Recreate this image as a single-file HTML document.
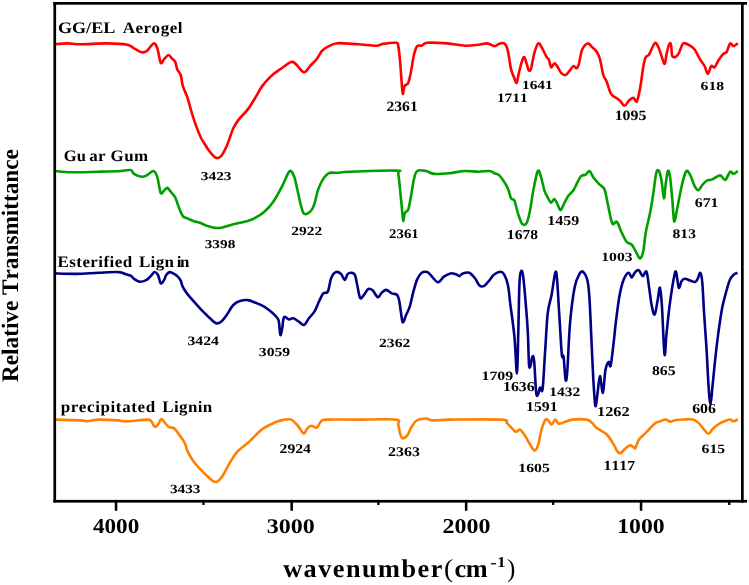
<!DOCTYPE html><html><head><meta charset="utf-8"><style>html,body{margin:0;padding:0;background:#fff;width:749px;height:585px;overflow:hidden}svg{display:block;will-change:transform}text{font-family:"Liberation Serif",serif;font-weight:bold;font-kerning:none;font-variant-ligatures:none;text-rendering:geometricPrecision}</style></head><body>
<svg width="749" height="585" viewBox="0 0 749 585">
<rect width="749" height="585" fill="#fff"/>
<path d="M54.0,44.3 C56.2,44.1 62.8,43.4 67.3,43.4 C71.8,43.4 74.0,44.3 80.7,44.3 C87.4,44.3 99.5,43.3 107.3,43.4 C115.1,43.5 122.8,44.0 127.3,44.8 C131.8,45.6 131.6,47.0 134.0,48.3 C136.4,49.5 139.6,51.9 141.8,52.3 C144.0,52.7 145.3,52.1 147.3,50.6 C149.3,49.1 151.9,43.8 153.6,43.4 C155.3,43.0 156.1,45.1 157.3,48.3 C158.5,51.5 159.6,60.9 160.7,62.8 C161.8,64.6 162.7,60.7 164.0,59.4 C165.3,58.1 167.1,55.2 168.4,55.0 C169.7,54.8 170.7,57.2 171.8,58.3 C172.9,59.4 174.2,59.9 175.1,61.7 C176.0,63.6 176.4,67.2 177.3,69.4 C178.2,71.6 179.8,72.2 180.7,75.0 C181.6,77.8 181.8,82.4 182.9,86.1 C184.0,89.8 185.8,92.8 187.3,97.2 C188.8,101.7 190.3,108.0 191.8,112.8 C193.3,117.6 194.7,122.0 196.2,126.1 C197.7,130.2 199.5,134.6 200.7,137.2 C201.9,139.8 201.9,139.5 203.3,141.7 C204.7,143.9 206.9,147.9 208.9,150.6 C210.9,153.3 213.6,156.8 215.6,157.7 C217.6,158.6 219.2,158.0 221.1,156.1 C222.9,154.2 224.7,150.7 226.7,146.1 C228.7,141.5 231.3,132.8 233.3,128.3 C235.3,123.9 236.5,122.6 238.9,119.4 C241.3,116.2 245.0,113.1 247.8,109.4 C250.6,105.7 253.2,101.1 255.6,97.2 C258.0,93.3 259.6,89.6 262.2,86.1 C264.8,82.6 268.1,78.9 271.1,76.1 C274.1,73.3 276.7,71.7 280.0,69.4 C283.3,67.1 288.5,63.0 291.1,62.1 C293.7,61.2 293.5,62.2 295.6,63.9 C297.8,65.6 301.6,71.9 304.0,72.3 C306.4,72.7 307.9,68.3 310.0,66.1 C312.1,63.9 314.7,61.6 316.7,59.0 C318.7,56.4 320.2,52.8 322.2,50.6 C324.2,48.5 326.3,47.3 328.9,46.1 C331.5,44.9 332.9,43.5 337.8,43.2 C342.7,42.9 351.9,43.9 358.3,44.3 C364.7,44.7 372.0,45.8 376.1,45.7 C380.2,45.6 379.5,44.4 382.8,43.9 C386.1,43.4 393.5,42.4 396.1,42.8 C398.7,43.2 397.6,43.0 398.3,46.1 C399.0,49.2 399.5,55.6 400.1,61.7 C400.7,67.8 401.2,77.4 401.7,82.8 C402.1,88.2 402.3,93.4 402.8,93.9 C403.3,94.5 403.7,87.9 404.6,86.1 C405.5,84.2 407.2,85.4 408.3,82.8 C409.4,80.2 410.3,75.2 411.2,70.6 C412.1,66.0 412.9,59.1 413.9,55.0 C414.9,50.9 415.9,47.6 417.2,46.1 C418.5,44.6 420.0,46.2 421.7,45.7 C423.4,45.2 422.9,43.2 427.2,42.8 C431.4,42.4 440.9,42.9 447.2,43.4 C453.5,43.9 459.8,45.5 465.0,45.7 C470.2,45.9 474.6,45.2 478.3,44.8 C482.0,44.4 484.5,43.2 487.2,43.4 C489.9,43.6 492.4,46.0 494.4,46.1 C496.3,46.2 497.2,44.4 498.9,43.9 C500.6,43.4 502.9,42.3 504.4,43.4 C505.9,44.5 506.7,46.3 507.8,50.6 C508.9,54.9 510.0,64.8 511.1,69.4 C512.2,74.0 513.5,76.1 514.4,78.3 C515.3,80.5 516.0,83.7 516.7,82.8 C517.5,81.9 518.0,76.5 518.9,72.8 C519.8,69.1 521.3,63.2 522.2,60.6 C523.1,58.0 523.6,56.7 524.4,57.2 C525.1,57.8 526.0,61.7 526.7,63.9 C527.5,66.1 528.2,69.9 528.9,70.6 C529.6,71.3 530.2,71.3 531.1,68.3 C532.0,65.3 533.2,56.9 534.4,52.8 C535.6,48.6 537.1,44.1 538.4,43.4 C539.7,42.6 540.8,46.0 542.2,48.3 C543.6,50.6 545.6,55.4 546.7,57.2 C547.8,59.1 548.2,57.7 548.9,59.4 C549.6,61.1 550.2,66.5 551.1,67.2 C552.0,67.9 553.3,63.4 554.4,63.4 C555.5,63.4 556.7,65.6 557.8,67.2 C558.9,68.8 559.8,71.5 561.1,72.8 C562.4,74.1 564.3,75.2 565.6,75.0 C566.9,74.8 567.6,73.2 568.9,71.7 C570.2,70.2 572.0,66.7 573.3,66.1 C574.6,65.5 575.8,68.7 576.7,68.3 C577.6,67.9 578.0,67.0 578.9,63.9 C579.8,60.8 580.7,52.8 582.2,49.4 C583.7,46.0 586.1,43.8 587.8,43.4 C589.5,43.0 590.7,45.8 592.2,47.2 C593.7,48.6 595.4,49.7 596.7,51.7 C598.0,53.7 598.9,55.5 600.0,59.4 C601.1,63.3 602.2,71.3 603.3,75.0 C604.4,78.7 605.4,78.5 606.7,81.7 C608.0,84.9 609.4,91.1 611.1,93.9 C612.8,96.7 615.2,97.2 616.7,98.3 C618.2,99.4 618.7,99.4 620.0,100.6 C621.3,101.8 623.0,105.7 624.5,105.7 C626.0,105.7 627.5,101.9 629.0,100.6 C630.5,99.3 632.1,97.5 633.4,97.7 C634.7,97.9 635.7,103.1 636.8,101.5 C637.9,99.9 639.0,94.2 640.1,88.3 C641.2,82.4 642.5,71.3 643.4,66.1 C644.3,60.9 644.8,59.1 645.7,57.2 C646.6,55.3 647.5,56.9 649.0,54.6 C650.5,52.3 653.1,44.8 654.6,43.4 C656.1,42.0 656.8,44.2 657.9,46.1 C659.0,48.0 660.1,52.0 661.2,55.0 C662.3,58.0 663.7,64.3 664.6,63.9 C665.5,63.5 665.9,56.2 666.8,52.8 C667.6,49.4 669.0,44.5 669.7,43.4 C670.4,42.3 670.8,44.0 671.2,46.1 C671.6,48.2 671.5,54.3 672.3,56.1 C673.0,57.9 674.6,57.3 675.7,56.8 C676.8,56.2 677.7,55.0 679.0,52.8 C680.3,50.6 681.5,44.6 683.4,43.4 C685.2,42.2 688.2,44.7 690.1,45.7 C692.0,46.7 692.9,47.1 694.6,49.4 C696.3,51.7 698.4,56.6 700.1,59.4 C701.8,62.2 703.3,63.7 704.6,66.1 C705.9,68.5 706.8,73.9 707.9,73.9 C709.0,73.9 710.1,67.2 711.2,66.1 C712.3,65.0 713.3,68.3 714.6,67.2 C715.9,66.1 717.5,61.6 719.0,59.4 C720.5,57.2 722.1,55.2 723.4,53.9 C724.7,52.6 725.7,53.5 726.8,51.7 C727.9,50.0 729.0,44.3 730.1,43.4 C731.2,42.5 732.1,46.1 733.4,46.1 C734.7,46.1 737.1,43.9 737.9,43.4" fill="none" stroke="#ff0000" stroke-width="2.6" stroke-linejoin="round" stroke-linecap="butt"/>
<path d="M54.0,171.0 C57.0,171.2 64.4,172.2 71.8,172.3 C79.2,172.4 90.2,171.9 98.4,171.7 C106.6,171.5 115.3,171.3 120.7,171.0 C126.1,170.7 128.5,169.6 130.7,170.1 C132.9,170.6 132.2,172.8 134.0,173.9 C135.8,175.0 139.6,176.6 141.8,176.8 C144.0,177.0 145.3,176.0 147.3,175.0 C149.3,174.0 151.9,170.6 153.6,171.0 C155.3,171.4 156.1,173.6 157.3,177.2 C158.5,180.8 159.6,190.6 160.7,192.8 C161.8,195.0 162.9,191.4 164.0,190.6 C165.1,189.8 166.2,187.7 167.3,187.9 C168.4,188.1 169.4,190.1 170.7,191.7 C172.0,193.2 173.8,194.8 175.1,197.2 C176.4,199.6 177.1,202.9 178.4,206.1 C179.7,209.2 181.4,214.1 182.9,216.1 C184.4,218.1 185.5,217.5 187.3,218.3 C189.2,219.2 191.9,220.4 194.0,221.2 C196.1,221.9 197.9,222.1 200.0,222.8 C202.1,223.6 204.1,224.8 206.7,225.7 C209.3,226.5 213.0,227.6 215.6,227.9 C218.2,228.2 219.2,228.0 222.2,227.4 C225.1,226.8 229.2,225.3 233.3,224.3 C237.4,223.3 243.2,222.2 246.7,221.2 C250.2,220.2 251.5,219.9 254.4,218.3 C257.4,216.7 261.2,214.5 264.4,211.7 C267.5,208.9 270.3,206.0 273.3,201.7 C276.3,197.4 279.8,190.7 282.2,186.1 C284.6,181.5 286.4,176.4 287.8,173.9 C289.2,171.4 289.6,170.4 290.7,171.0 C291.8,171.6 293.2,173.8 294.4,177.2 C295.6,180.6 296.7,186.9 297.8,191.7 C298.9,196.5 300.0,202.4 301.1,206.1 C302.2,209.8 302.7,213.2 304.4,213.9 C306.1,214.7 309.4,212.3 311.1,210.6 C312.8,208.9 313.3,207.2 314.4,203.9 C315.5,200.6 316.5,194.5 317.8,190.6 C319.1,186.7 320.4,183.5 322.2,180.6 C324.0,177.7 326.3,174.5 328.9,173.2 C331.5,171.9 334.3,173.1 337.8,172.8 C341.3,172.6 340.3,172.1 350.0,171.7 C359.7,171.3 388.1,170.2 396.1,170.6 C404.2,171.0 397.6,169.8 398.3,173.9 C399.1,178.0 399.9,188.5 400.6,195.0 C401.3,201.5 401.9,208.4 402.3,212.8 C402.7,217.2 402.8,221.2 403.2,221.2 C403.6,221.2 404.1,214.8 405.0,212.8 C405.9,210.8 407.3,212.4 408.3,209.4 C409.3,206.4 410.3,200.0 411.2,195.0 C412.1,190.0 412.9,183.4 413.9,179.4 C414.9,175.4 415.2,172.4 417.2,171.0 C419.2,169.6 423.3,170.5 426.1,171.0 C428.9,171.5 430.0,173.5 433.9,173.9 C437.8,174.3 444.2,173.7 449.4,173.2 C454.6,172.7 460.2,171.2 465.0,171.0 C469.8,170.8 474.2,171.7 478.3,171.7 C482.4,171.7 486.7,170.8 489.4,171.0 C492.1,171.2 492.8,172.5 494.4,173.2 C496.0,173.9 497.4,173.8 498.9,175.0 C500.4,176.2 501.8,178.4 503.3,180.6 C504.8,182.8 506.5,185.4 507.8,188.3 C509.1,191.2 510.0,196.2 511.1,198.3 C512.2,200.4 513.3,198.2 514.4,200.6 C515.5,203.0 516.5,208.9 517.8,212.8 C519.1,216.7 520.7,222.2 522.2,223.9 C523.7,225.6 525.4,225.0 526.7,222.8 C528.0,220.6 528.9,216.0 530.0,210.6 C531.1,205.2 532.0,197.2 533.3,190.6 C534.6,184.0 536.5,173.2 537.8,171.0 C539.1,168.8 540.0,173.9 541.1,177.2 C542.2,180.5 543.2,187.1 544.4,190.6 C545.6,194.1 547.1,196.3 548.2,198.3 C549.3,200.3 550.1,202.7 551.1,202.8 C552.1,202.9 553.3,198.6 554.4,199.0 C555.5,199.4 556.8,203.2 557.8,205.0 C558.8,206.8 559.6,210.5 560.7,210.1 C561.8,209.7 563.0,205.3 564.4,202.8 C565.8,200.3 567.4,197.0 568.9,195.0 C570.4,193.0 571.8,192.8 573.3,190.6 C574.8,188.4 576.5,184.1 577.8,181.7 C579.1,179.3 579.8,177.3 581.1,176.1 C582.4,174.9 584.2,175.4 585.6,174.6 C587.0,173.8 588.3,170.6 589.6,171.0 C590.9,171.4 591.8,175.0 593.3,177.2 C594.8,179.3 597.0,181.9 598.9,183.9 C600.8,185.9 603.0,186.0 604.5,189.4 C606.0,192.8 606.6,198.8 607.9,204.5 C609.2,210.2 610.8,220.5 612.3,223.4 C613.8,226.3 615.3,220.3 616.8,221.7 C618.3,223.0 619.6,228.2 621.2,231.5 C622.8,234.8 624.7,239.4 626.5,241.7 C628.3,243.9 630.3,243.2 632.0,245.0 C633.7,246.8 635.1,250.6 636.5,252.8 C637.9,255.1 639.0,258.9 640.1,258.5 C641.2,258.1 642.5,254.9 643.4,250.6 C644.3,246.3 644.6,239.1 645.7,232.8 C646.8,226.5 648.8,219.5 650.1,212.8 C651.4,206.1 652.4,199.5 653.4,192.8 C654.4,186.1 655.4,176.4 656.3,172.8 C657.2,169.2 658.1,169.5 659.0,171.0 C659.9,172.5 660.9,177.1 661.7,181.7 C662.5,186.2 663.2,197.9 663.9,198.3 C664.6,198.7 665.0,188.5 665.7,183.9 C666.4,179.3 667.2,172.1 667.9,171.0 C668.6,169.9 669.4,172.5 670.1,177.2 C670.8,181.9 671.6,192.1 672.3,199.4 C673.0,206.7 673.4,219.3 674.1,221.2 C674.9,223.1 675.6,216.1 676.8,210.6 C678.0,205.1 679.9,194.2 681.2,188.3 C682.5,182.4 683.6,177.9 684.6,175.0 C685.6,172.1 686.3,170.6 687.4,171.0 C688.5,171.4 690.0,174.7 691.2,177.2 C692.4,179.7 693.4,183.9 694.6,186.1 C695.8,188.2 697.3,190.3 698.6,190.1 C699.9,189.9 700.9,186.6 702.3,185.0 C703.7,183.4 705.1,181.5 706.8,180.6 C708.5,179.7 710.1,180.3 712.3,179.4 C714.5,178.5 718.0,175.3 720.1,175.4 C722.2,175.5 723.5,180.5 725.2,179.9 C726.9,179.3 728.7,172.7 730.1,171.7 C731.5,170.7 732.1,174.0 733.4,173.9 C734.7,173.8 737.1,171.5 737.9,171.0" fill="none" stroke="#009f00" stroke-width="2.6" stroke-linejoin="round" stroke-linecap="butt"/>
<path d="M54.0,273.4 C57.7,273.5 68.8,274.0 76.2,273.9 C83.6,273.8 91.4,273.1 98.4,272.8 C105.4,272.5 114.0,271.9 118.4,272.1 C122.9,272.3 123.0,273.3 125.1,273.9 C127.1,274.5 129.2,274.9 130.7,275.7 C132.2,276.5 132.5,277.8 134.0,278.8 C135.5,279.8 137.6,281.5 139.6,281.7 C141.6,281.9 144.3,281.0 146.2,280.1 C148.0,279.2 149.3,277.4 150.7,276.1 C152.1,274.8 153.2,272.3 154.4,272.1 C155.6,271.9 156.9,273.1 158.0,275.0 C159.1,276.9 159.7,282.3 160.7,283.2 C161.7,284.1 163.1,281.5 164.0,280.1 C164.9,278.7 165.3,276.3 166.2,275.0 C167.1,273.7 168.3,272.3 169.6,272.1 C170.9,271.9 172.7,273.2 174.0,273.9 C175.3,274.6 176.2,275.0 177.3,276.1 C178.4,277.2 179.8,278.8 180.7,280.6 C181.6,282.5 181.8,285.0 182.9,287.2 C184.0,289.4 185.5,291.5 187.3,293.9 C189.2,296.3 191.9,299.3 194.0,301.7 C196.1,304.1 198.3,306.4 200.0,308.3 C201.7,310.2 202.7,311.1 204.4,312.8 C206.1,314.5 208.1,316.6 210.0,318.3 C211.9,320.0 214.2,322.6 216.0,323.2 C217.8,323.8 219.3,323.1 221.1,321.7 C222.9,320.3 224.7,317.8 226.7,315.0 C228.7,312.2 231.1,307.3 233.3,305.0 C235.5,302.7 237.6,301.8 240.0,301.0 C242.4,300.2 245.2,299.8 247.8,300.1 C250.4,300.4 253.0,301.8 255.6,302.8 C258.2,303.8 260.7,304.6 263.3,306.1 C265.9,307.6 268.9,309.9 271.1,311.7 C273.3,313.5 275.4,315.5 276.7,317.2 C278.0,318.9 278.3,318.7 278.9,321.7 C279.5,324.7 279.8,333.9 280.4,335.0 C280.9,336.1 281.6,331.3 282.2,328.3 C282.8,325.3 282.9,318.7 284.0,317.2 C285.1,315.7 287.3,319.2 288.9,319.4 C290.4,319.6 291.6,317.9 293.3,318.3 C295.0,318.7 297.1,320.6 298.9,321.7 C300.7,322.8 302.3,325.6 304.0,325.0 C305.7,324.4 307.2,320.5 308.9,318.3 C310.6,316.1 312.7,314.5 314.4,311.7 C316.1,308.9 317.4,304.8 318.9,301.7 C320.4,298.6 321.8,295.1 323.3,293.4 C324.8,291.7 326.5,294.2 327.8,291.7 C329.1,289.2 329.8,281.6 331.1,278.3 C332.4,275.0 333.9,272.8 335.6,272.1 C337.3,271.4 339.6,272.6 341.1,273.9 C342.6,275.2 343.5,280.0 344.6,280.0 C345.7,280.0 346.6,275.1 347.8,273.9 C349.0,272.7 350.5,272.6 351.7,272.8 C352.9,273.0 354.1,273.0 355.0,275.0 C355.9,277.0 356.3,281.2 357.2,285.0 C358.1,288.8 359.0,296.2 360.1,297.9 C361.2,299.6 362.5,296.5 363.9,295.0 C365.3,293.5 366.8,289.7 368.3,289.0 C369.8,288.3 371.2,289.2 372.8,290.6 C374.4,292.0 376.4,296.8 377.9,297.2 C379.4,297.6 380.3,294.0 381.7,292.8 C383.1,291.6 384.4,289.8 386.1,289.9 C387.8,290.0 389.9,292.5 391.7,293.4 C393.5,294.2 395.9,293.6 397.2,295.0 C398.5,296.4 398.8,298.7 399.4,301.7 C400.0,304.7 400.4,309.4 401.0,312.8 C401.6,316.2 401.9,321.9 402.8,322.3 C403.7,322.7 404.9,317.7 406.1,315.0 C407.3,312.3 408.7,310.0 409.9,306.1 C411.1,302.2 412.2,296.1 413.4,291.7 C414.6,287.2 415.8,282.5 417.2,279.4 C418.6,276.2 420.0,274.0 421.7,272.8 C423.4,271.6 425.7,271.7 427.2,272.1 C428.7,272.5 428.8,273.3 430.6,275.0 C432.4,276.7 435.7,282.0 437.9,282.3 C440.1,282.6 441.8,278.1 443.9,276.6 C446.0,275.1 448.6,273.8 450.6,273.4 C452.6,273.0 454.6,273.9 456.1,274.3 C457.6,274.8 458.3,276.2 459.4,276.1 C460.5,276.0 461.1,273.9 462.8,273.4 C464.5,272.8 467.4,272.0 469.4,272.8 C471.4,273.6 473.3,276.2 475.0,278.3 C476.7,280.4 477.9,284.1 479.4,285.4 C480.9,286.7 482.4,286.7 483.9,286.1 C485.4,285.5 486.6,283.6 488.3,281.7 C490.0,279.8 491.8,276.5 493.8,274.8 C495.8,273.1 498.6,271.8 500.3,271.7 C502.0,271.6 502.8,272.1 504.1,274.3 C505.4,276.5 506.8,279.9 507.9,285.1 C509.0,290.3 509.4,297.1 510.5,305.6 C511.6,314.2 513.3,325.1 514.4,336.4 C515.5,347.7 516.3,373.5 516.9,373.5 C517.5,373.5 517.8,351.6 518.2,336.4 C518.6,321.2 519.0,293.4 519.5,282.5 C520.0,271.6 520.7,271.9 521.3,271.0 C521.9,270.1 522.5,271.6 523.3,277.4 C524.1,283.2 525.1,296.2 525.9,305.6 C526.7,315.0 527.4,324.0 527.9,333.8 C528.4,343.6 528.6,359.3 529.0,364.6 C529.4,369.9 530.0,367.1 530.5,365.8 C531.0,364.5 531.7,357.8 532.3,356.9 C532.9,356.0 533.5,354.7 534.1,360.7 C534.8,366.7 535.5,387.2 536.2,392.8 C536.9,398.4 537.6,394.9 538.2,394.0 C538.8,393.1 539.3,388.5 540.0,387.6 C540.7,386.8 541.8,394.9 542.6,388.9 C543.5,382.9 544.2,364.3 545.1,351.7 C546.0,339.1 546.6,322.7 547.7,313.3 C548.8,303.9 550.2,302.1 551.5,295.3 C552.8,288.5 554.4,274.7 555.4,272.3 C556.4,269.9 556.6,274.4 557.2,281.2 C557.8,288.0 558.4,301.1 559.2,313.3 C560.0,325.5 561.1,347.0 561.8,354.3 C562.5,361.6 563.0,352.6 563.6,356.9 C564.2,361.2 565.0,377.9 565.6,380.0 C566.2,382.1 566.7,379.1 567.4,369.7 C568.1,360.3 568.8,337.2 570.0,323.5 C571.2,309.8 573.0,295.9 574.6,287.6 C576.2,279.3 578.2,276.1 579.7,273.5 C581.2,270.9 582.3,271.0 583.6,272.3 C584.9,273.6 586.6,276.5 587.6,281.2 C588.6,285.9 589.0,290.9 589.6,300.5 C590.2,310.1 590.8,326.1 591.4,338.9 C592.0,351.7 592.6,366.3 593.2,377.4 C593.9,388.5 594.6,402.6 595.3,405.6 C596.0,408.6 596.5,400.2 597.3,395.3 C598.1,390.4 599.0,376.5 599.9,376.1 C600.8,375.7 602.0,393.9 602.9,392.8 C603.8,391.7 604.5,374.8 605.5,369.7 C606.5,364.6 607.8,362.6 608.6,362.0 C609.5,361.4 609.8,368.4 610.6,365.8 C611.4,363.2 612.2,354.5 613.2,346.6 C614.2,338.7 615.2,326.9 616.3,318.4 C617.4,309.8 618.4,301.7 619.6,295.3 C620.8,288.9 622.0,283.8 623.5,280.0 C625.0,276.2 627.2,273.2 628.6,272.8 C630.0,272.4 630.6,277.5 631.7,277.4 C632.8,277.3 633.8,273.5 635.0,272.3 C636.2,271.1 637.5,269.6 638.8,270.2 C640.1,270.8 641.4,275.9 642.7,276.1 C644.0,276.4 645.4,269.8 646.5,271.7 C647.6,273.6 648.2,282.0 649.1,287.6 C650.0,293.2 650.8,301.1 651.7,305.6 C652.6,310.1 653.7,315.5 654.7,314.6 C655.7,313.8 656.7,305.0 657.6,300.5 C658.5,296.0 659.2,286.8 659.9,287.6 C660.6,288.5 661.1,294.5 661.9,305.6 C662.7,316.7 663.7,349.6 664.5,354.3 C665.3,359.0 665.6,341.9 666.5,333.8 C667.4,325.7 668.4,314.6 669.6,305.6 C670.8,296.6 672.4,285.6 673.5,280.0 C674.6,274.4 675.1,270.4 676.0,271.7 C676.9,273.0 677.8,286.0 678.7,287.6 C679.6,289.2 680.5,282.7 681.5,281.2 C682.5,279.7 683.5,278.8 684.9,278.7 C686.3,278.6 688.3,279.9 690.0,280.5 C691.7,281.1 693.9,282.3 695.2,282.0 C696.5,281.7 696.9,280.2 697.7,278.7 C698.6,277.2 699.5,272.2 700.3,272.8 C701.1,273.4 701.7,275.8 702.3,282.5 C702.9,289.2 703.4,301.8 704.1,313.3 C704.8,324.8 706.0,339.7 706.7,351.7 C707.4,363.7 707.9,376.3 708.5,385.1 C709.1,393.9 709.8,404.3 710.5,404.3 C711.2,404.3 711.8,392.6 712.6,385.1 C713.4,377.6 714.3,367.9 715.2,359.4 C716.1,350.8 717.1,342.3 718.2,333.8 C719.4,325.3 720.8,315.0 722.1,308.2 C723.4,301.4 724.6,297.5 725.9,292.8 C727.2,288.1 728.5,283.0 729.8,280.0 C731.1,277.0 732.3,276.0 733.6,274.8 C734.9,273.6 736.9,273.1 737.5,272.8" fill="none" stroke="#000085" stroke-width="2.6" stroke-linejoin="round" stroke-linecap="butt"/>
<path d="M54.0,419.6 C58.5,419.7 75.1,420.1 80.7,420.4 C86.3,420.7 84.3,421.3 87.4,421.2 C90.5,421.1 94.3,419.7 99.4,419.6 C104.5,419.5 113.6,420.1 118.1,420.4 C122.5,420.7 121.2,421.5 126.1,421.4 C131.0,421.3 143.3,419.6 147.5,419.6 C151.7,419.7 150.3,420.5 151.5,421.7 C152.7,422.9 153.8,426.6 154.9,427.0 C156.0,427.4 157.0,425.7 158.1,424.4 C159.2,423.1 160.3,419.4 161.3,419.0 C162.3,418.6 162.8,420.4 164.0,421.7 C165.2,423.0 167.1,425.9 168.8,427.0 C170.5,428.1 172.4,427.0 174.2,428.4 C176.0,429.8 177.7,432.7 179.5,435.1 C181.3,437.6 183.5,440.4 184.8,443.1 C186.1,445.8 186.2,448.2 187.5,451.1 C188.8,454.0 190.9,457.5 192.9,460.4 C194.9,463.3 197.3,465.9 199.5,468.4 C201.7,470.8 204.0,473.0 206.2,475.1 C208.4,477.2 211.1,479.9 212.9,481.0 C214.7,482.1 215.4,482.6 216.9,481.8 C218.4,481.0 220.2,479.3 222.2,476.4 C224.2,473.5 226.7,468.2 228.9,464.4 C231.1,460.6 233.6,456.4 235.6,453.7 C237.6,451.0 238.9,450.2 240.9,448.4 C242.9,446.6 246.1,444.4 247.6,443.1 C249.1,441.9 248.7,442.1 250.0,440.9 C251.3,439.6 253.1,437.7 255.3,435.6 C257.5,433.5 260.0,430.6 263.4,428.4 C266.8,426.2 271.8,423.7 275.4,422.2 C278.9,420.7 282.0,420.0 284.7,419.6 C287.4,419.2 289.4,418.8 291.4,419.6 C293.4,420.4 295.1,422.7 296.7,424.4 C298.2,426.1 299.5,428.1 300.7,429.7 C301.9,431.2 302.8,433.9 303.9,433.7 C305.0,433.5 306.1,429.7 307.4,428.4 C308.6,427.1 309.8,425.8 311.4,425.7 C313.0,425.6 315.2,428.3 316.8,427.6 C318.4,426.9 319.2,423.0 320.8,421.7 C322.4,420.4 320.1,420.0 326.1,419.6 C332.1,419.2 345.2,419.6 356.8,419.6 C368.4,419.6 388.6,418.8 395.5,419.6 C402.4,420.4 397.4,422.0 398.2,424.4 C399.0,426.8 399.4,431.4 400.1,433.7 C400.9,436.0 401.5,438.1 402.7,438.3 C403.9,438.5 406.0,437.0 407.5,435.1 C409.0,433.2 409.9,429.4 411.5,427.0 C413.1,424.6 414.4,421.8 416.9,420.4 C419.3,419.0 423.5,418.5 426.2,418.5 C428.9,418.5 428.9,420.2 432.9,420.4 C436.9,420.6 438.6,419.7 450.0,419.6 C461.4,419.5 491.9,419.0 501.4,419.6 C510.9,420.2 505.0,421.5 506.8,423.0 C508.6,424.5 510.6,426.9 512.1,428.4 C513.6,429.9 514.8,431.6 516.1,431.8 C517.4,432.0 518.6,428.9 520.1,429.7 C521.6,430.5 523.6,433.7 525.4,436.4 C527.2,439.1 529.2,443.3 530.8,445.7 C532.4,448.1 533.5,450.7 534.8,450.5 C536.0,450.3 537.2,447.9 538.3,444.4 C539.4,440.9 540.3,433.8 541.5,429.7 C542.7,425.6 544.3,421.0 545.5,419.6 C546.7,418.2 547.9,420.4 548.9,421.2 C549.9,422.0 550.5,424.7 551.6,424.4 C552.7,424.1 554.2,419.7 555.4,419.6 C556.6,419.5 557.1,423.5 558.8,423.8 C560.5,424.1 563.3,422.4 565.5,421.7 C567.7,421.0 568.6,420.0 572.2,419.6 C575.8,419.2 583.6,419.0 586.9,419.6 C590.2,420.2 590.7,421.7 592.2,423.0 C593.7,424.3 594.7,426.2 596.0,427.4 C597.3,428.6 598.4,429.0 600.2,430.2 C602.0,431.4 604.7,432.1 606.9,434.5 C609.1,436.9 611.9,441.6 613.6,444.4 C615.3,447.2 616.1,449.6 617.2,451.1 C618.3,452.6 619.1,453.7 620.4,453.3 C621.7,452.9 623.6,450.1 625.1,448.8 C626.6,447.5 628.3,445.8 629.6,445.4 C630.9,445.0 632.0,446.2 633.0,446.6 C634.0,447.1 634.3,449.2 635.3,448.1 C636.2,447.0 637.2,442.1 638.7,439.8 C640.2,437.5 642.4,436.1 644.3,434.2 C646.2,432.3 648.0,430.4 649.9,428.5 C651.8,426.6 653.9,424.1 655.6,422.9 C657.3,421.7 658.4,421.9 660.1,421.3 C661.8,420.7 664.0,419.4 665.7,419.5 C667.4,419.6 668.8,421.6 670.3,421.7 C671.8,421.8 672.5,420.6 674.8,420.2 C677.0,419.8 680.8,419.6 683.8,419.5 C686.8,419.4 690.3,418.9 692.8,419.5 C695.2,420.1 696.6,421.2 698.5,422.9 C700.4,424.6 702.4,427.8 704.1,429.6 C705.8,431.4 707.1,433.9 708.6,433.7 C710.1,433.5 711.4,430.1 713.1,428.5 C714.8,426.9 716.9,425.2 718.8,424.0 C720.7,422.8 722.5,422.1 724.4,421.3 C726.3,420.6 728.5,419.5 730.0,419.5 C731.5,419.5 732.1,421.3 733.4,421.3 C734.7,421.3 737.1,419.8 737.9,419.5" fill="none" stroke="#ff8000" stroke-width="2.6" stroke-linejoin="round" stroke-linecap="butt"/>
<rect x="53.4" y="2.0" width="693.6" height="2.7" fill="#000"/>
<rect x="53.4" y="499.9" width="693.6" height="2.7" fill="#000"/>
<rect x="53.4" y="2.0" width="2.7" height="500.6" fill="#000"/>
<rect x="741.0" y="2.0" width="2.7" height="500.6" fill="#000"/>
<rect x="114.8" y="499.9" width="2.5" height="10.9" fill="#000"/>
<rect x="290.4" y="499.9" width="2.5" height="10.9" fill="#000"/>
<rect x="464.9" y="499.9" width="2.5" height="10.9" fill="#000"/>
<rect x="639.8" y="499.9" width="2.5" height="10.9" fill="#000"/>
<rect x="202.3" y="499.9" width="2.3" height="5.1" fill="#000"/>
<rect x="377.2" y="499.9" width="2.3" height="5.1" fill="#000"/>
<rect x="552.0" y="499.9" width="2.3" height="5.1" fill="#000"/>
<rect x="728.1" y="499.9" width="2.3" height="5.1" fill="#000"/>
<text transform="translate(201.30,179.68) scale(1.2776,1)" x="-0.45" y="0" font-size="12.06" fill="#000">3423</text>
<text transform="translate(387.10,111.36) scale(1.0941,1)" x="-0.60" y="0" font-size="14.29" fill="#000">2361</text>
<text transform="translate(498.10,101.90) scale(1.2015,1)" x="-1.03" y="0" font-size="12.88" fill="#000">1711</text>
<text transform="translate(523.20,89.08) scale(1.2288,1)" x="-1.00" y="0" font-size="12.50" fill="#000">1641</text>
<text transform="translate(615.90,119.66) scale(1.1160,1)" x="-1.14" y="0" font-size="14.23" fill="#000">1095</text>
<text transform="translate(701.10,90.28) scale(1.2468,1)" x="-0.43" y="0" font-size="12.60" fill="#000">618</text>
<text transform="translate(205.20,247.58) scale(1.2782,1)" x="-0.45" y="0" font-size="12.00" fill="#000">3398</text>
<text transform="translate(291.90,235.08) scale(1.2363,1)" x="-0.53" y="0" font-size="12.50" fill="#000">2922</text>
<text transform="translate(389.70,237.97) scale(1.1207,1)" x="-0.56" y="0" font-size="13.25" fill="#000">2361</text>
<text transform="translate(508.10,238.67) scale(1.1430,1)" x="-1.09" y="0" font-size="13.63" fill="#000">1678</text>
<text transform="translate(548.50,224.67) scale(1.1669,1)" x="-1.10" y="0" font-size="13.69" fill="#000">1459</text>
<text transform="translate(602.50,261.38) scale(1.2419,1)" x="-1.01" y="0" font-size="12.60" fill="#000">1003</text>
<text transform="translate(673.10,238.47) scale(1.1671,1)" x="-0.44" y="0" font-size="13.34" fill="#000">813</text>
<text transform="translate(695.30,207.37) scale(1.1773,1)" x="-0.46" y="0" font-size="13.40" fill="#000">671</text>
<text transform="translate(188.00,345.48) scale(1.2298,1)" x="-0.48" y="0" font-size="12.80" fill="#000">3424</text>
<text transform="translate(259.40,356.08) scale(1.2746,1)" x="-0.46" y="0" font-size="12.30" fill="#000">3059</text>
<text transform="translate(379.70,346.88) scale(1.2341,1)" x="-0.53" y="0" font-size="12.65" fill="#000">2362</text>
<text transform="translate(482.70,379.68) scale(1.2496,1)" x="-1.02" y="0" font-size="12.74" fill="#000">1709</text>
<text transform="translate(504.30,391.17) scale(1.1677,1)" x="-1.08" y="0" font-size="13.54" fill="#000">1636</text>
<text transform="translate(527.30,411.17) scale(1.1659,1)" x="-1.08" y="0" font-size="13.54" fill="#000">1591</text>
<text transform="translate(550.40,395.68) scale(1.2112,1)" x="-1.02" y="0" font-size="12.80" fill="#000">1432</text>
<text transform="translate(598.30,416.27) scale(1.1906,1)" x="-1.10" y="0" font-size="13.69" fill="#000">1262</text>
<text transform="translate(652.50,374.97) scale(1.1666,1)" x="-0.45" y="0" font-size="13.49" fill="#000">865</text>
<text transform="translate(692.70,413.47) scale(1.1516,1)" x="-0.47" y="0" font-size="13.78" fill="#000">606</text>
<text transform="translate(170.50,492.98) scale(1.2237,1)" x="-0.47" y="0" font-size="12.50" fill="#000">3433</text>
<text transform="translate(280.20,453.37) scale(1.1833,1)" x="-0.56" y="0" font-size="13.25" fill="#000">2924</text>
<text transform="translate(388.60,456.07) scale(1.2047,1)" x="-0.56" y="0" font-size="13.25" fill="#000">2363</text>
<text transform="translate(519.60,471.58) scale(1.2626,1)" x="-1.00" y="0" font-size="12.45" fill="#000">1605</text>
<text transform="translate(604.80,469.60) scale(1.1319,1)" x="-1.12" y="0" font-size="13.94" fill="#000">1117</text>
<text transform="translate(702.10,452.98) scale(1.2299,1)" x="-0.44" y="0" font-size="12.80" fill="#000">615</text>
<text transform="translate(93.20,533.29) scale(1.0948,1)" x="-0.29" y="0" font-size="21.19" fill="#000">4000</text>
<text transform="translate(267.60,533.10) scale(1.1515,1)" x="-0.79" y="0" font-size="20.89" fill="#000">3000</text>
<text transform="translate(443.40,533.29) scale(1.1331,1)" x="-0.89" y="0" font-size="21.19" fill="#000">2000</text>
<text transform="translate(619.10,533.29) scale(1.1209,1)" x="-1.70" y="0" font-size="21.19" fill="#000">1000</text>
<text transform="translate(58.80,32.90) scale(1.1315,1)" x="-0.78" y="0" font-size="16.00" fill="#000">GG/EL</text>
<text transform="translate(122.80,32.90) scale(1.0600,1)" x="-0.16 11.93 19.55 27.18 35.71 44.24 51.87" y="0" font-size="16.00" fill="#000">Aerogel</text>
<text transform="translate(64.60,161.00) scale(1.0331,1)" x="-0.78" y="0" font-size="16.00" fill="#000">Gu</text>
<text transform="translate(89.70,161.00) scale(1.0600,1)" x="-0.52 7.77" y="0" font-size="16.00" fill="#000">ar</text>
<text transform="translate(111.40,161.00) scale(1.0600,1)" x="-0.78 12.03 21.28" y="0" font-size="16.00" fill="#000">Gum</text>
<text transform="translate(57.80,266.50) scale(1.0600,1)" x="-0.27 10.81 17.45 23.19 30.70 38.22 43.08 48.82 53.67 61.19" y="0" font-size="16.00" fill="#000">Esterified</text>
<text transform="translate(139.30,266.50) scale(1.0600,1)" x="-0.27 10.68 15.42 23.70" y="0" font-size="16.00" fill="#000">Lign</text>
<text transform="translate(177.00,266.50) scale(1.0600,1)" x="-0.35 2.85" y="0" font-size="16.00" fill="#000">in</text>
<text transform="translate(60.90,411.70) scale(1.0600,1)" x="-0.20 9.28 16.96 24.65 32.33 37.36 46.84 51.87 57.78 66.36 72.28 79.96" y="0" font-size="16.00" fill="#000">precipitated</text>
<text transform="translate(162.60,411.70) scale(1.0600,1)" x="-0.27 10.75 15.55 23.90 33.15 37.95" y="0" font-size="16.00" fill="#000">Lignin</text>
<text transform="translate(283.20,577.00) scale(1.0300,1)" x="-0.07 19.78 33.97 48.16 60.91 76.53 92.15 114.83 130.45 143.21" y="0" font-size="25.50" fill="#000">wavenumber</text>
<text transform="translate(455.30,577.00) scale(1.0300,1)" x="-0.87 10.07" y="0" font-size="25.50" fill="#000">cm</text>
<text transform="translate(445.30,576.94) scale(1.0576,1)" x="-1.15" y="0" font-size="26.14" fill="#000" style="font-weight:normal">(</text>
<text transform="translate(507.90,576.94) scale(0.9534,1)" x="-0.84" y="0" font-size="26.14" fill="#000" style="font-weight:normal">)</text>
<rect x="490.9" y="563.1" width="5.0" height="1.3" fill="#000"/>
<text transform="translate(498.40,566.70) scale(1.1589,1)" x="-1.20" y="0" font-size="15.00" fill="#000">1</text>
<g transform="translate(18.1,381.6) rotate(-90) scale(0.9806,1)"><text x="-0.41" y="0" font-size="23.70" fill="#000">Relative Transmittance</text></g>
</svg></body></html>
